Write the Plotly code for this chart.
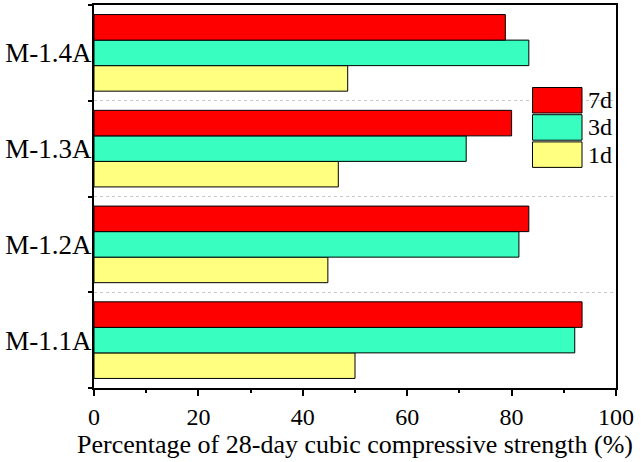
import plotly.graph_objects as go

# Mortar mixes and early-age strength ratios (% of 28-day cubic compressive strength)
mixes = ["M-1.1A", "M-1.2A", "M-1.3A", "M-1.4A"]
ages = ["1d", "3d", "7d"]
strength_1d = [50.0, 44.8, 46.8, 48.6]
strength_3d = [92.1, 81.4, 71.3, 83.3]
strength_7d = [93.5, 83.3, 80.0, 78.8]
x_ticks = [0, 20, 40, 60, 80, 100]

colors = {"1d": "#FFFF80", "3d": "#38FFC0", "7d": "#FF0000"}
series = {"1d": strength_1d, "3d": strength_3d, "7d": strength_7d}

FONT = "Liberation Serif, Times New Roman, serif"
pos = list(range(len(mixes)))

fig = go.Figure()
for age in ages:
    fig.add_trace(go.Bar(
        x=series[age], y=pos, orientation="h", name=age,
        marker=dict(color=colors[age], line=dict(color="#000000", width=1)),
        showlegend=False,
    ))

fig.update_layout(
    width=644, height=462,
    margin=dict(l=94, r=28, t=5, b=74),
    paper_bgcolor="white", plot_bgcolor="white",
    barmode="group", bargap=0.2, bargroupgap=0,
    font=dict(family=FONT, size=22, color="black"),
)

fig.update_xaxes(
    range=[0, 100], tickvals=x_ticks, ticks="outside", ticklen=6, tickwidth=1.5,
    tickcolor="black", showline=True, linecolor="black", linewidth=2, mirror=True,
    showgrid=False, zeroline=False, tickfont=dict(size=24), automargin=False,
    minor=dict(dtick=10, tick0=0, ticks="outside", ticklen=3, tickcolor="black", showgrid=False),
    title=dict(text="Percentage of 28-day cubic compressive strength (%)",
               font=dict(size=26), standoff=0),
)

fig.update_yaxes(
    range=[-0.5, len(mixes) - 0.5], tickvals=pos, ticktext=mixes, ticks="",
    showline=True, linecolor="black", linewidth=2, mirror=True, automargin=False,
    showgrid=False, zeroline=False, tickfont=dict(size=27), ticklabelstandoff=-5,
    minor=dict(tick0=0.5, dtick=1, ticks="outside", ticklen=4, tickwidth=1.5,
               tickcolor="black", showgrid=True, gridcolor="#C8C8C8",
               griddash="dot", gridwidth=1),
)

# Legend: swatches and labels, 7d on top
legend_order = ["7d", "3d", "1d"]
top = 87.5
h = 25.5
step = 27.2
for i, age in enumerate(legend_order):
    y0 = top + i * step
    fig.add_shape(
        type="rect", xref="paper", yref="paper",
        x0=(532.5 - 94) / 522, x1=(582 - 94) / 522,
        y0=1 - (y0 + h - 5) / 383, y1=1 - (y0 - 5) / 383,
        fillcolor=colors[age], line=dict(color="#000000", width=1),
    )
    fig.add_annotation(
        xref="paper", yref="paper", x=(586 - 94) / 522, y=1 - (y0 + h / 2 - 5) / 383,
        text=age, showarrow=False, xanchor="left", yanchor="middle",
        font=dict(size=24, family=FONT),
    )

fig.write_html("out.html")
